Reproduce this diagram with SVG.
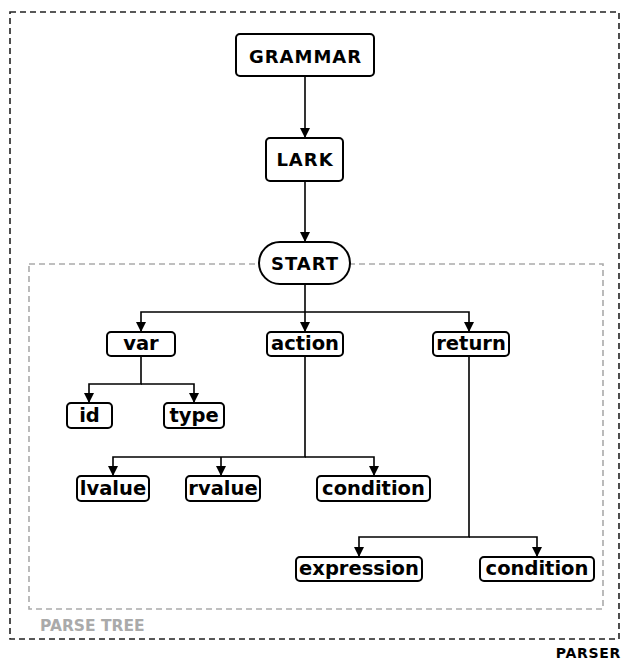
<svg xmlns="http://www.w3.org/2000/svg" width="623" height="661" viewBox="0 0 623 661">
<style>
.box{fill:#fff;stroke:#000;stroke-width:2}
.t{font-family:"DejaVu Sans","Noto Sans",sans-serif;font-weight:bold;fill:#000;text-anchor:middle}
.big{font-size:18px;letter-spacing:1px}
.sm{font-size:19.5px}
.edge{fill:none;stroke:#000;stroke-width:1.6}
</style>
<defs>
<marker id="ah" markerWidth="11" markerHeight="10" refX="10" refY="5" orient="auto" markerUnits="userSpaceOnUse">
<path d="M0,0 L10,5 L0,10 Z" fill="#000"/>
</marker>
</defs>
<g id="parser">
<rect x="10" y="12" width="609" height="627" fill="none" stroke="#222" stroke-width="1.6" stroke-dasharray="6,4"/>
<text x="621" y="658" class="t" style="font-size:14px;letter-spacing:0.7px;text-anchor:end">PARSER</text>
</g>
<g id="parse-tree">
<rect x="29" y="264" width="574" height="345" fill="none" stroke="#aaa" stroke-width="1.6" stroke-dasharray="6,4"/>
<text x="40" y="631" class="t" style="font-size:15.5px;text-anchor:start;fill:#aaa">PARSE TREE</text>
</g>
<g id="connectors">
<path class="edge" d="M305,76 V138" marker-end="url(#ah)"/>
<path class="edge" d="M305,181 V242" marker-end="url(#ah)"/>
<path class="edge" d="M305,284 V332" marker-end="url(#ah)"/>
<path class="edge" d="M305,312 H141 V332" marker-end="url(#ah)"/>
<path class="edge" d="M305,312 H469 V332" marker-end="url(#ah)"/>
<path class="edge" d="M141,356 V384 H89 V403" marker-end="url(#ah)"/>
<path class="edge" d="M141,384 H194 V403" marker-end="url(#ah)"/>
<path class="edge" d="M305,356 V457 H113 V476" marker-end="url(#ah)"/>
<path class="edge" d="M221,457 V476" marker-end="url(#ah)"/>
<path class="edge" d="M305,457 H374 V476" marker-end="url(#ah)"/>
<path class="edge" d="M469,356 V537 H359 V557" marker-end="url(#ah)"/>
<path class="edge" d="M469,537 H537 V557" marker-end="url(#ah)"/>
</g>
<g id="grammar"><rect class="box" x="236" y="34" width="138" height="42" rx="4"/><text class="t big" x="305.5" y="62.5">GRAMMAR</text></g>
<g id="lark"><rect class="box" x="266" y="138" width="77" height="43" rx="4"/><text class="t big" x="305" y="166">LARK</text></g>
<g id="start"><rect class="box" x="259" y="242" width="91" height="42" rx="21"/><text class="t big" x="305" y="270">START</text></g>
<g id="var"><rect class="box" x="107" y="332" width="68" height="24" rx="4"/><text class="t sm" x="141" y="350">var</text></g>
<g id="action"><rect class="box" x="267" y="332" width="76" height="24" rx="4"/><text class="t sm" x="305" y="350">action</text></g>
<g id="return"><rect class="box" x="433" y="332" width="76" height="24" rx="4"/><text class="t sm" x="471" y="350">return</text></g>
<g id="id"><rect class="box" x="67" y="403" width="45" height="25" rx="4"/><text class="t sm" x="89.5" y="422">id</text></g>
<g id="type"><rect class="box" x="164" y="403" width="60" height="25" rx="4"/><text class="t sm" x="194" y="422">type</text></g>
<g id="lvalue"><rect class="box" x="77" y="476" width="72" height="25" rx="4"/><text class="t sm" x="113" y="495">lvalue</text></g>
<g id="rvalue"><rect class="box" x="186" y="476" width="74" height="25" rx="4"/><text class="t sm" x="223" y="495">rvalue</text></g>
<g id="condition1"><rect class="box" x="317" y="476" width="113" height="25" rx="4"/><text class="t sm" x="373.5" y="495">condition</text></g>
<g id="expression"><rect class="box" x="296" y="557" width="126" height="24" rx="4"/><text class="t sm" x="359" y="575">expression</text></g>
<g id="condition2"><rect class="box" x="480" y="557" width="114" height="24" rx="4"/><text class="t sm" x="537" y="575">condition</text></g>
</svg>
